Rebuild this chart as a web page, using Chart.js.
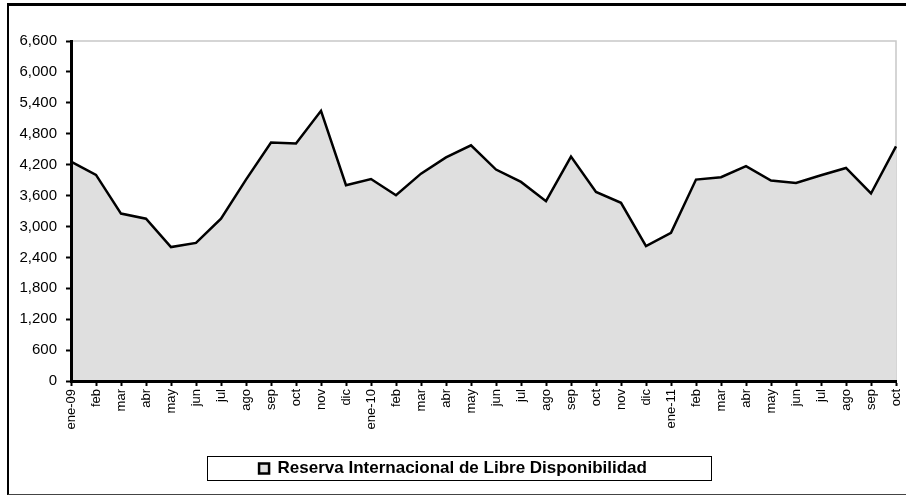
<!DOCTYPE html>
<html>
<head>
<meta charset="utf-8">
<script src="https://cdn.jsdelivr.net/npm/chart.js@4.4.0/dist/chart.umd.min.js"></script>
<style>
    html, body { margin: 0; padding: 0; background: #fff; overflow: hidden; }
    #wrap { position: relative; width: 906px; height: 495px; }
    #frame {
        position: absolute; left: 7px; top: 3px; width: 920px; height: 488px;
        border-left: 2px solid #000; border-top: 3px solid #000; border-bottom: 1px solid #444;
    }
    canvas { position: absolute; left: 0; top: 0; }
</style>
</head>
<body>
<div id="wrap">
    <div id="frame"></div>
    <canvas id="chartReserva" width="906" height="495"></canvas>
</div>
<script>
(function () {
    'use strict';

    /* ── Datos ─────────────────────────────────────────── */
    var MESES = [
        'ene-09', 'feb', 'mar', 'abr', 'may', 'jun', 'jul', 'ago', 'sep', 'oct', 'nov', 'dic',
        'ene-10', 'feb', 'mar', 'abr', 'may', 'jun', 'jul', 'ago', 'sep', 'oct', 'nov', 'dic',
        'ene-11', 'feb', 'mar', 'abr', 'may', 'jun', 'jul', 'ago', 'sep', 'oct'
    ];
    var RESERVA_2009 = [4260, 4000, 3250, 3150, 2600, 2680, 3150, 3910, 4630, 4610, 5245, 3800];
    var RESERVA_2010 = [3920, 3605, 4025, 4340, 4575, 4105, 3865, 3490, 4355, 3670, 3460, 2620];
    var RESERVA_2011 = [2875, 3910, 3955, 4170, 3890, 3845, 3995, 4135, 3640, 4555];
    var Y_MAX  = 6600;
    var Y_STEP = 600;

    var LEYENDA = 'Reserva Internacional de Libre Disponibilidad';

    var FILL   = '#dfdfdf';
    var FONT   = '"Liberation Sans", Arial, sans-serif';

    var valores = RESERVA_2009.concat(RESERVA_2010, RESERVA_2011);

    /* ── Borde gris superior / derecho del área de trazado ── */
    var bordePlot = {
        id: 'bordePlot',
        beforeDatasetsDraw: function (chart) {
            var a = chart.chartArea, ctx = chart.ctx;
            ctx.save();
            ctx.strokeStyle = '#c8c8c8';
            ctx.lineWidth = 1.5;
            ctx.beginPath();
            ctx.moveTo(a.left, a.top);
            ctx.lineTo(a.right, a.top);
            ctx.lineTo(a.right, a.bottom);
            ctx.stroke();
            ctx.restore();
        }
    };

    /* ── Marco alrededor de la leyenda ───────────────────── */
    var marcoLeyenda = {
        id: 'marcoLeyenda',
        afterDraw: function (chart) {
            var ctx = chart.ctx;
            ctx.save();
            ctx.strokeStyle = '#000';
            ctx.lineWidth = 1;
            ctx.strokeRect(207.5, 456.5, 504, 24);
            ctx.restore();
        }
    };

    Chart.defaults.font.family = FONT;
    Chart.defaults.color = '#000';

    // Ejes negros gruesos por encima del área rellena
    function ejeOpts() {
        return {
            z: 1,
            border: { display: true, color: '#000', width: 3, z: 1 },
            grid: {
                drawOnChartArea: false, drawTicks: true, z: 1,
                tickLength: 5, tickColor: '#000', tickWidth: 2
            }
        };
    }

    var ejeX = ejeOpts();
    ejeX.offset = false;
    ejeX.ticks = {
        autoSkip: false, minRotation: 90, maxRotation: 90,
        padding: 3, color: '#000', font: { size: 13 }
    };
    ejeX.afterFit = function (scale) {
        scale.height = 69;
        scale.paddingRight = 10;
    };

    var ejeY = ejeOpts();
    ejeY.min = 0;
    ejeY.max = Y_MAX;
    ejeY.ticks = {
        stepSize: Y_STEP, padding: 9, color: '#000', font: { size: 15 },
        callback: function (v) { return v.toLocaleString('en-US'); }
    };
    ejeY.afterFit = function (scale) { scale.width = 71; };

    new Chart(document.getElementById('chartReserva'), {
        type: 'line',
        data: {
            labels: MESES,
            datasets: [{
                label:           LEYENDA,
                data:            valores,
                borderColor:     '#000',
                backgroundColor: FILL,
                borderWidth:     2.5,
                pointRadius:     0,
                tension:         0,
                fill:            'origin'
            }]
        },
        options: {
            responsive: false,
            animation: false,
            layout: { padding: { top: 41, right: 0, left: 0, bottom: 8 } },
            scales: { x: ejeX, y: ejeY },
            plugins: {
                legend: {
                    position: 'bottom',
                    labels: {
                        boxWidth: 10, boxHeight: 10, padding: 10,
                        font: { size: 17, weight: 'bold' },
                        color: '#000',
                        generateLabels: function () {
                            return [{
                                text: LEYENDA, fillStyle: FILL, strokeStyle: '#000',
                                lineWidth: 2.5, datasetIndex: 0, hidden: false
                            }];
                        }
                    }
                },
                tooltip: { enabled: false }
            }
        },
        plugins: [bordePlot, marcoLeyenda]
    });
})();
</script>
</body>
</html>
